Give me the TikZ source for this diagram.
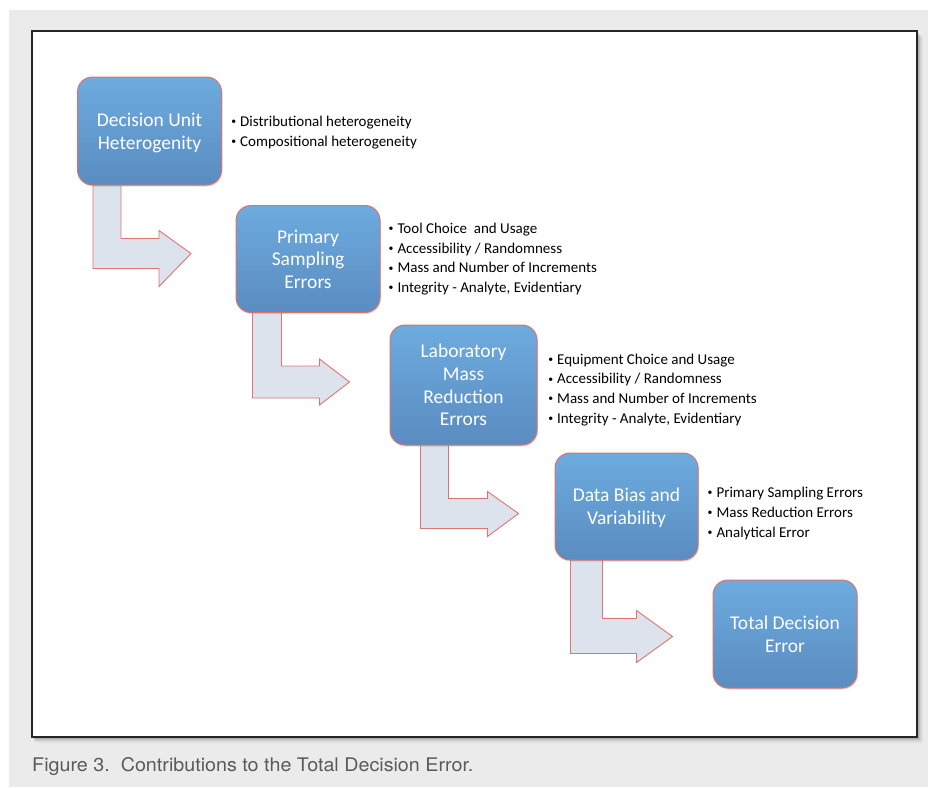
\documentclass[tikz,border=0pt]{standalone}
\usepackage{fontspec}
\setmainfont{Carlito}
\newfontfamily\capfont{TeX Gyre Heros}
\usetikzlibrary{calc,shadows}
\definecolor{bgGray}{HTML}{EBEBEB}
\definecolor{boxTop}{HTML}{6DABDF}
\definecolor{boxBot}{HTML}{5A8CC0}
\definecolor{boxLine}{HTML}{D9736F}
\definecolor{arrFill}{HTML}{DCE3EC}
\definecolor{arrLine}{HTML}{E07470}
\definecolor{capGray}{HTML}{5A5A5A}
\newcommand{\blt}{\makebox[8.3pt][l]{\hspace{-0.6pt}\raisebox{1.8pt}{\scalebox{0.65}{\textbullet}}}}
\pgfdeclarelayer{bglayer}
\pgfdeclarelayer{back}
\pgfsetlayers{bglayer,back,main}
\tikzset{
  stepbox/.style={rectangle, rounded corners=15pt, draw=boxLine, line width=1pt,
    top color=boxTop, bottom color=boxBot, text=white, align=center,
    font=\fontsize{19.5}{22.6}\selectfont, inner sep=0pt, text depth=0pt,
    drop shadow={shadow xshift=1pt, shadow yshift=-1.5pt, opacity=0.25}},
  barrow/.style={draw=arrLine, fill=arrFill, line width=0.9pt, line join=miter},
  lst/.style={anchor=base west, inner sep=0pt, font=\fontsize{15}{19.8}\selectfont, text=black}
}
\begin{document}
\begin{tikzpicture}[x=1pt,y=-1pt]
\useasboundingbox (0,0) rectangle (928,787);
\begin{pgfonlayer}{bglayer}
\fill[white] (0,0) rectangle (928,787);
\fill[bgGray] (9,10) rectangle (928,787);
\foreach \i/\o in {1/0.12,2/0.09,3/0.07,4/0.05,5/0.035,6/0.02,7/0.012}
  \fill[black, opacity=\o] (32+\i*0.5,31+\i) rectangle (917+\i,737+\i);
\draw[line width=1.3pt, draw=black!85, fill=white] (32,31) rectangle (917,737);
\end{pgfonlayer}

\node[stepbox, minimum width=144pt, minimum height=108pt] (b1) at (149.5,131) {Decision Unit\\Heterogenity};
\node[stepbox, minimum width=144pt, minimum height=107pt] (b2) at (308,259) {Primary\\Sampling\\Errors};
\node[stepbox, minimum width=147pt, minimum height=120pt] (b3) at (463.5,385) {Laboratory\\Mass\\Reduction\\Errors};
\node[stepbox, minimum width=143pt, minimum height=107pt] (b4) at (626.5,506.5) {Data Bias and\\Variability};
\node[stepbox, minimum width=144pt, minimum height=108pt] (b5) at (785,634) {Total Decision\\Error};

\begin{pgfonlayer}{back}
\draw[barrow] ($(b1.south west)+(16,-4)$) -- ++(28,0) -- ++(0,57) -- ++(38,0) -- ++(0,-8)
  -- ++(32,23) -- ++(-32,33) -- ++(0,-18) -- ++(-66,0) -- cycle;
\draw[barrow] ($(b2.south west)+(17,-4)$) -- ++(29,0) -- ++(0,57) -- ++(38,0) -- ++(0,-7)
  -- ++(30,23) -- ++(-30,23) -- ++(0,-7) -- ++(-67,0) -- cycle;
\draw[barrow] ($(b3.south west)+(31,-4)$) -- ++(28,0) -- ++(0,57) -- ++(39,0) -- ++(0,-7)
  -- ++(31,22) -- ++(-31,23) -- ++(0,-8) -- ++(-67,0) -- cycle;
\draw[barrow] ($(b4.south west)+(16,-4)$) -- ++(32,0) -- ++(0,62) -- ++(34,0) -- ++(0,-8)
  -- ++(36,26) -- ++(-36,26) -- ++(0,-9) -- ++(-66,0) -- cycle;
\end{pgfonlayer}

\node[lst] (l1) at (231.7,126.5) {\vtop{\hbox{\blt Distributional heterogeneity}\hbox{\blt Compositional heterogeneity}}};
\node[lst] (l2) at (389,233.3) {\vtop{\hbox{\blt Tool Choice\ \ and Usage}\hbox{\blt Accessibility / Randomness}\hbox{\blt Mass and Number of Increments}\hbox{\blt Integrity - Analyte, Evidentiary}}};
\node[lst] (l3) at (548.7,364) {\vtop{\hbox{\blt Equipment Choice and Usage}\hbox{\blt Accessibility / Randomness}\hbox{\blt Mass and Number of Increments}\hbox{\blt Integrity - Analyte, Evidentiary}}};
\node[lst] (l4) at (708,497.7) {\vtop{\hbox{\blt Primary Sampling Errors}\hbox{\blt Mass Reduction Errors}\hbox{\blt Analytical Error}}};

\node[anchor=base west, inner sep=0pt, text=capGray] (cap) at (32,771)
  {\resizebox{441pt}{14pt}{\capfont Figure 3.\ \ Contributions to the Total Decision Error.}};
\end{tikzpicture}
\end{document}
